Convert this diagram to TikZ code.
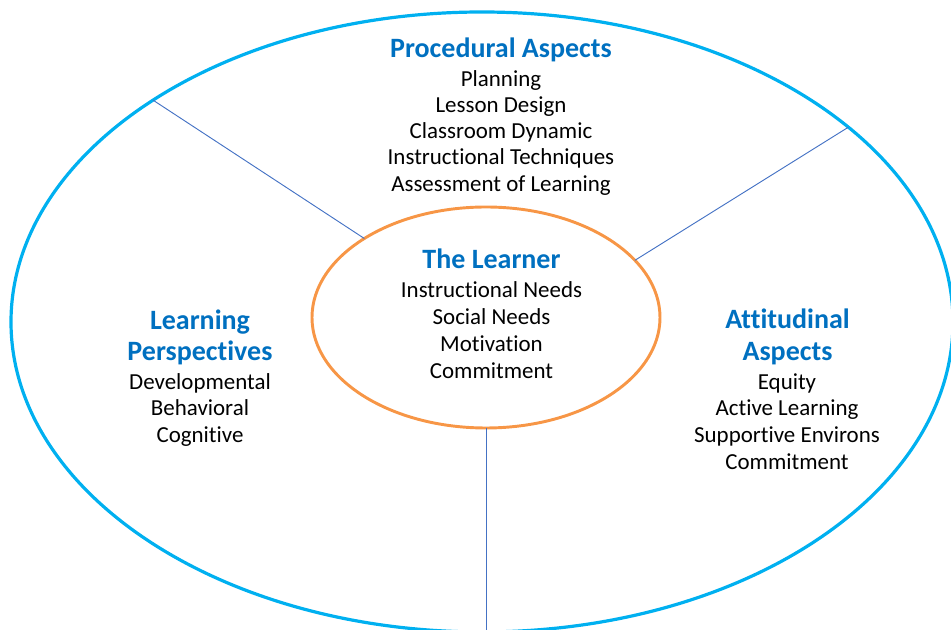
\documentclass[tikz,border=0pt]{standalone}
\usepackage{fontspec}
\setmainfont{Carlito}[Ligatures={NoCommon,NoContextual},RawFeature={-liga;-clig;-dlig;-calt;-rlig}]
\usetikzlibrary{shapes.geometric}

\definecolor{ringblue}{RGB}{0,176,240}
\definecolor{coreorange}{RGB}{247,150,70}
\definecolor{spokeblue}{RGB}{68,114,196}
\definecolor{headblue}{RGB}{0,112,192}

\tikzset{
  ring/.style={ellipse,draw=ringblue,line width=2.4pt,inner sep=0pt,outer sep=0pt},
  core/.style={ellipse,draw=coreorange,line width=2.2pt,inner sep=0pt,outer sep=0pt},
  spoke/.style={draw=spokeblue,line width=0.7pt},
  head/.style={anchor=base,inner sep=0pt,text=headblue,font=\fontsize{21}{24}\selectfont\bfseries},
  item/.style={anchor=base,inner sep=0pt,font=\fontsize{17.2}{20}\selectfont}
}

\begin{document}
\begin{tikzpicture}[x=0.75pt,y=-0.75pt]
        \useasboundingbox (0,0) rectangle (951,630);
        \clip (0,0) rectangle (951,630);

        % draw the outer ring and the learner in the middle
        \node[ring,minimum width=706.5pt,minimum height=465pt] (ring) at (482,322) {};
        \node[core,minimum width=261pt,minimum height=165.75pt] (core) at (486,317.5) {};

        % lines from the learner out to the ring
        \draw[spoke] (core.147.45) -- (ring.146.55);
        \draw[spoke] (core.21.7) -- (ring.28.6);
        \draw[spoke] (core.south) -- (core.south |- ring.south);

        % procedural aspects on top
        \node[head] (proc-head) at (501,57.3) {Procedural Aspects};
        \foreach \t [count=\i] in {Planning,Lesson Design,Classroom Dynamic,
                Instructional Techniques,Assessment of Learning}
                \node[item] (proc-\i) at (501,{86.7+26.1*(\i-1)}) {\t};

        % the learner
        \node[head] (learner-head) at (491.5,269) {The Learner};
        \foreach \t [count=\i] in {Instructional Needs,Social Needs,Motivation,Commitment}
                \node[item] (learner-\i) at (491.5,{298+26.7*(\i-1)}) {\t};

        % learning perspectives on the left
        \node[head] (persp-head-1) at (200,330) {Learning};
        \node[head] (persp-head-2) at (200,360.7) {Perspectives};
        \foreach \t [count=\i] in {Developmental,Behavioral,Cognitive}
                \node[item] (persp-\i) at (200,{389.3+26.7*(\i-1)}) {\t};

        % attitudinal aspects on the right
        \node[head] (att-head-1) at (787.5,329) {Attitudinal};
        \node[head] (att-head-2) at (787.5,360.7) {Aspects};
        \foreach \t [count=\i] in {Equity,Active Learning,Supportive Environs,Commitment}
                \node[item] (att-\i) at (787,{389.3+26.7*(\i-1)}) {\t};
\end{tikzpicture}
\end{document}
